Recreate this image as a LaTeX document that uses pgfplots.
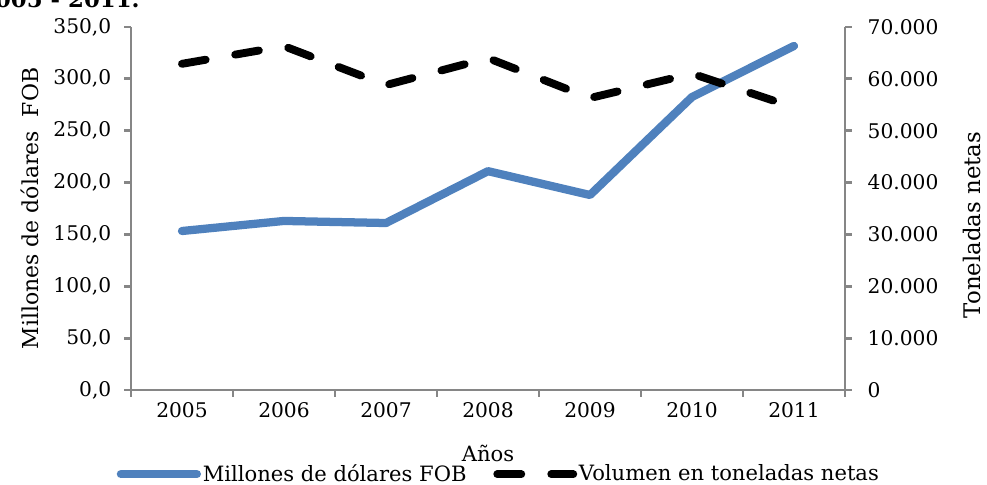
\documentclass[border=0pt]{standalone}
\usepackage{fontspec}
\setmainfont{DejaVu Serif}
\usepackage{pgfplots}
\pgfplotsset{compat=1.18}
\definecolor{blueline}{HTML}{4F81BD}
\definecolor{axgray}{HTML}{868686}
\begin{document}
\begin{tikzpicture}
\pgfplotsset{
  common/.style={
    at={(0cm,0cm)}, anchor=south west,
    scale only axis, width=14.28cm, height=7.26cm,
    xmin=0.5, xmax=7.5,
    axis line style={axgray, line width=1.6pt, -},
    tick align=outside,
    tick style={axgray, line width=1.6pt},
    major tick length=0.13cm,
    minor tick length=0.14cm,
    tick label style={font=\fontsize{11.5}{13}\selectfont, black},
    /pgf/number format/assume math mode=true,
    clip=false,
  }
}
\begin{axis}[common,
  ymin=0, ymax=350,
  axis x line*=bottom, axis y line*=left,
  xtick={1,...,7}, xticklabels={2005,2006,2007,2008,2009,2010,2011},
  major x tick style={draw=none},
  minor xtick={0.5,1.5,...,7.5},
  ytick={0,50,...,350},
  yticklabel style={xshift=-0.14cm, /pgf/number format/.cd, fixed, fixed zerofill, precision=1, use comma},
  ylabel={Millones de dólares\ \ FOB},
  ylabel style={at={(axis description cs:-0.1415,0.5)}, anchor=center, font=\fontsize{12.5}{15}\selectfont},
  xlabel={Años},
  xlabel style={at={(axis description cs:0.5,-0.174)}, anchor=center, font=\fontsize{12}{14}\selectfont},
  legend columns=2,
  legend style={at={(axis description cs:0.515,-0.232)}, anchor=center, draw=none, fill=none,
    font=\fontsize{12}{14}\selectfont, nodes={inner xsep=1pt, inner ysep=1pt},
    /tikz/every even column/.append style={column sep=0.5cm}},
  legend image code/.code={\draw[#1] (0cm,0cm) -- (1.52cm,0cm);},
]
\addplot[blueline, line width=4.7pt, line cap=round, line join=round]
  coordinates {(1,153.3) (2,163) (3,161) (4,211) (5,188) (6,282.5) (7,331.7)};
\addlegendentry{Millones de dólares FOB}
\addlegendimage{black, line width=4.5pt, line cap=round, dash pattern=on 0.48cm off 0.6cm}
\addlegendentry{Volumen en toneladas netas}
\end{axis}
\begin{axis}[common,
  ymin=0, ymax=70000,
  axis x line=none, axis y line*=right,
  ytick={0,10000,...,70000},
  scaled y ticks=false,
  yticklabel style={xshift=0.2cm, /pgf/number format/.cd, fixed, 1000 sep={.}},
  ylabel={Toneladas netas},
  ylabel style={at={(axis description cs:1.178,0.455)}, anchor=center, font=\fontsize{13}{15}\selectfont},
]
\addplot[black, line width=4.5pt, line cap=round, line join=round, dash pattern=on 0.48cm off 0.6cm]
  coordinates {(1,62900) (2,66300) (3,58800) (4,64000) (5,56300) (6,61000) (7,54500)};
\end{axis}
\node[font=\bfseries\fontsize{13}{15}\selectfont, anchor=base east, inner sep=0pt] at (0.18cm,7.64cm) {2005 - 2011.};
\pgfresetboundingbox
\useasboundingbox (-2.62cm,-1.9cm) rectangle (17.12cm,7.8cm);
\end{tikzpicture}
\end{document}
